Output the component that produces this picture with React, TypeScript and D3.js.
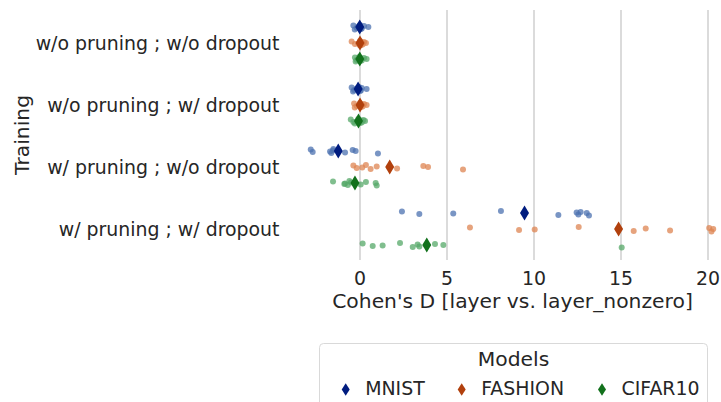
import React from "react";
import * as d3 from "d3";

const categories = [
  "w/o pruning ; w/o dropout",
  "w/o pruning ; w/ dropout",
  "w/ pruning ; w/o dropout",
  "w/ pruning ; w/ dropout",
];
const models = ["MNIST", "FASHION", "CIFAR10"];
const xTicks = [0, 5, 10, 15, 20];

// values[model][category]
const mnistValues = [
  [-0.38, -0.19, -0.05, 0.0, 0.05, -0.1, 0.1, 0.23, 0.48, -0.3],
  [-0.48, -0.34, -0.15, -0.05, 0.0, -0.2, 0.05, 0.1, 0.38, -0.4],
  [-2.83, -2.72, -1.72, -1.53, -1.65, -1.55, -0.86, -0.42, -0.25, 1.03],
  [2.41, 3.41, 5.36, 8.1, 11.4, 12.45, 12.55, 12.68, 13.03, 13.16],
];
const fashionValues = [
  [-0.48, -0.29, -0.1, 0.0, 0.05, 0.1, 0.15, 0.23, 0.34, 0.0],
  [-0.34, -0.19, -0.05, 0.0, 0.05, 0.1, 0.15, 0.23, 0.38, -0.3],
  [-0.38, -0.19, 0.13, 0.34, 0.61, 0.96, 2.13, 3.64, 3.91, 5.92],
  [6.32, 9.14, 10.04, 12.57, 15.73, 16.42, 17.82, 20.07, 20.3, 20.2],
];
const cifarValues = [
  [-0.29, -0.2, -0.1, -0.05, 0.0, 0.05, 0.1, 0.23, 0.38, -0.25],
  [-0.53, -0.38, -0.2, -0.1, 0.0, 0.05, 0.1, 0.2, 0.29, -0.3],
  [-1.55, -0.9, -0.86, -0.61, -0.7, -0.52, 0.04, 0.34, 0.9, 0.96],
  [0.15, 0.73, 1.3, 2.3, 3.03, 3.31, 3.41, 4.31, 4.79, 15.04],
];
const seriesValues = [mnistValues, fashionValues, cifarValues];

const pointColors = ["#4c72b0", "#dd8452", "#55a868"];
const meanColors = ["#001c7f", "#b1400d", "#12711c"];
const jitterPx = [-1.5, 1, 0.5, -2, 2, -0.5, 1.5, -1, 0, 2.5];

const W = 721;
const H = 402;
const TEXT = "#262626";
const FONT = "'DejaVu Sans', sans-serif";

function diamond(cx: number, cy: number, w: number, h: number) {
  return `M${cx},${cy - h / 2}L${cx + w / 2},${cy}L${cx},${cy + h / 2}L${cx - w / 2},${cy}Z`;
}

export default function App() {
  const x = d3.scaleLinear().domain([0, 20]).range([360, 708]);
  const y = d3.scalePoint<string>().domain(categories).range([12, 260]).padding(0.5);
  const dodge = d3.scalePoint<string>().domain(models).range([-16, 16]);

  return (
    <svg
      width={W}
      height={H}
      style={{ position: "absolute", left: 0, top: 0, display: "block", background: "#fff" }}
      fontFamily={FONT}
    >
      {/* grid */}
      {xTicks.map((t) => (
        <line key={t} x1={x(t)} x2={x(t)} y1={10} y2={260} stroke="#cccccc" strokeWidth={1.4} />
      ))}
      {/* x tick labels */}
      {xTicks.map((t) => (
        <text key={t} x={x(t)} y={285} textAnchor="middle" fontSize={18.9} fill={TEXT}>
          {t}
        </text>
      ))}
      <text x={512.5} y={308} textAnchor="middle" fontSize={20.3} fill={TEXT}>
        Cohen's D [layer vs. layer_nonzero]
      </text>
      {/* y labels */}
      {categories.map((c) => (
        <text key={c} x={279.5} y={y(c)!} dy="0.35em" textAnchor="end" fontSize={18.9} fill={TEXT}>
          {c}
        </text>
      ))}
      <text
        transform={`translate(29,${135}) rotate(-90)`}
        textAnchor="middle"
        fontSize={20.3}
        fill={TEXT}
      >
        Training
      </text>
      {/* strip points */}
      {models.map((m, mi) =>
        categories.map((c, ci) =>
          seriesValues[mi][ci].map((v, k) => (
            <circle
              key={`${m}-${c}-${k}`}
              cx={x(v)}
              cy={y(c)! + dodge(m)! + jitterPx[k % jitterPx.length]}
              r={3}
              fill={pointColors[mi]}
              fillOpacity={0.75}
            />
          ))
        )
      )}
      {/* mean markers */}
      {models.map((m, mi) =>
        categories.map((c, ci) => {
          const mean = d3.mean(seriesValues[mi][ci])!;
          return (
            <path
              key={`mean-${m}-${c}`}
              d={diamond(x(mean), y(c)! + dodge(m)!, 9, 15)}
              fill={meanColors[mi]}
            />
          );
        })
      )}
      {/* legend */}
      <rect x={319.5} y={343.5} width={388} height={80} rx={4} fill="#fff" stroke="#d9d9d9" strokeWidth={1} />
      <text x={513.5} y={366} textAnchor="middle" fontSize={20.3} fill={TEXT}>
        Models
      </text>
      {models.map((m, mi) => {
        const mx = [345.7, 461.7, 602][mi];
        return (
          <g key={`leg-${m}`}>
            <path d={diamond(mx, 389.5, 8, 12.5)} fill={meanColors[mi]} />
            <text x={mx + 19.5} y={395} fontSize={18.9} fill={TEXT}>
              {m}
            </text>
          </g>
        );
      })}
    </svg>
  );
}
